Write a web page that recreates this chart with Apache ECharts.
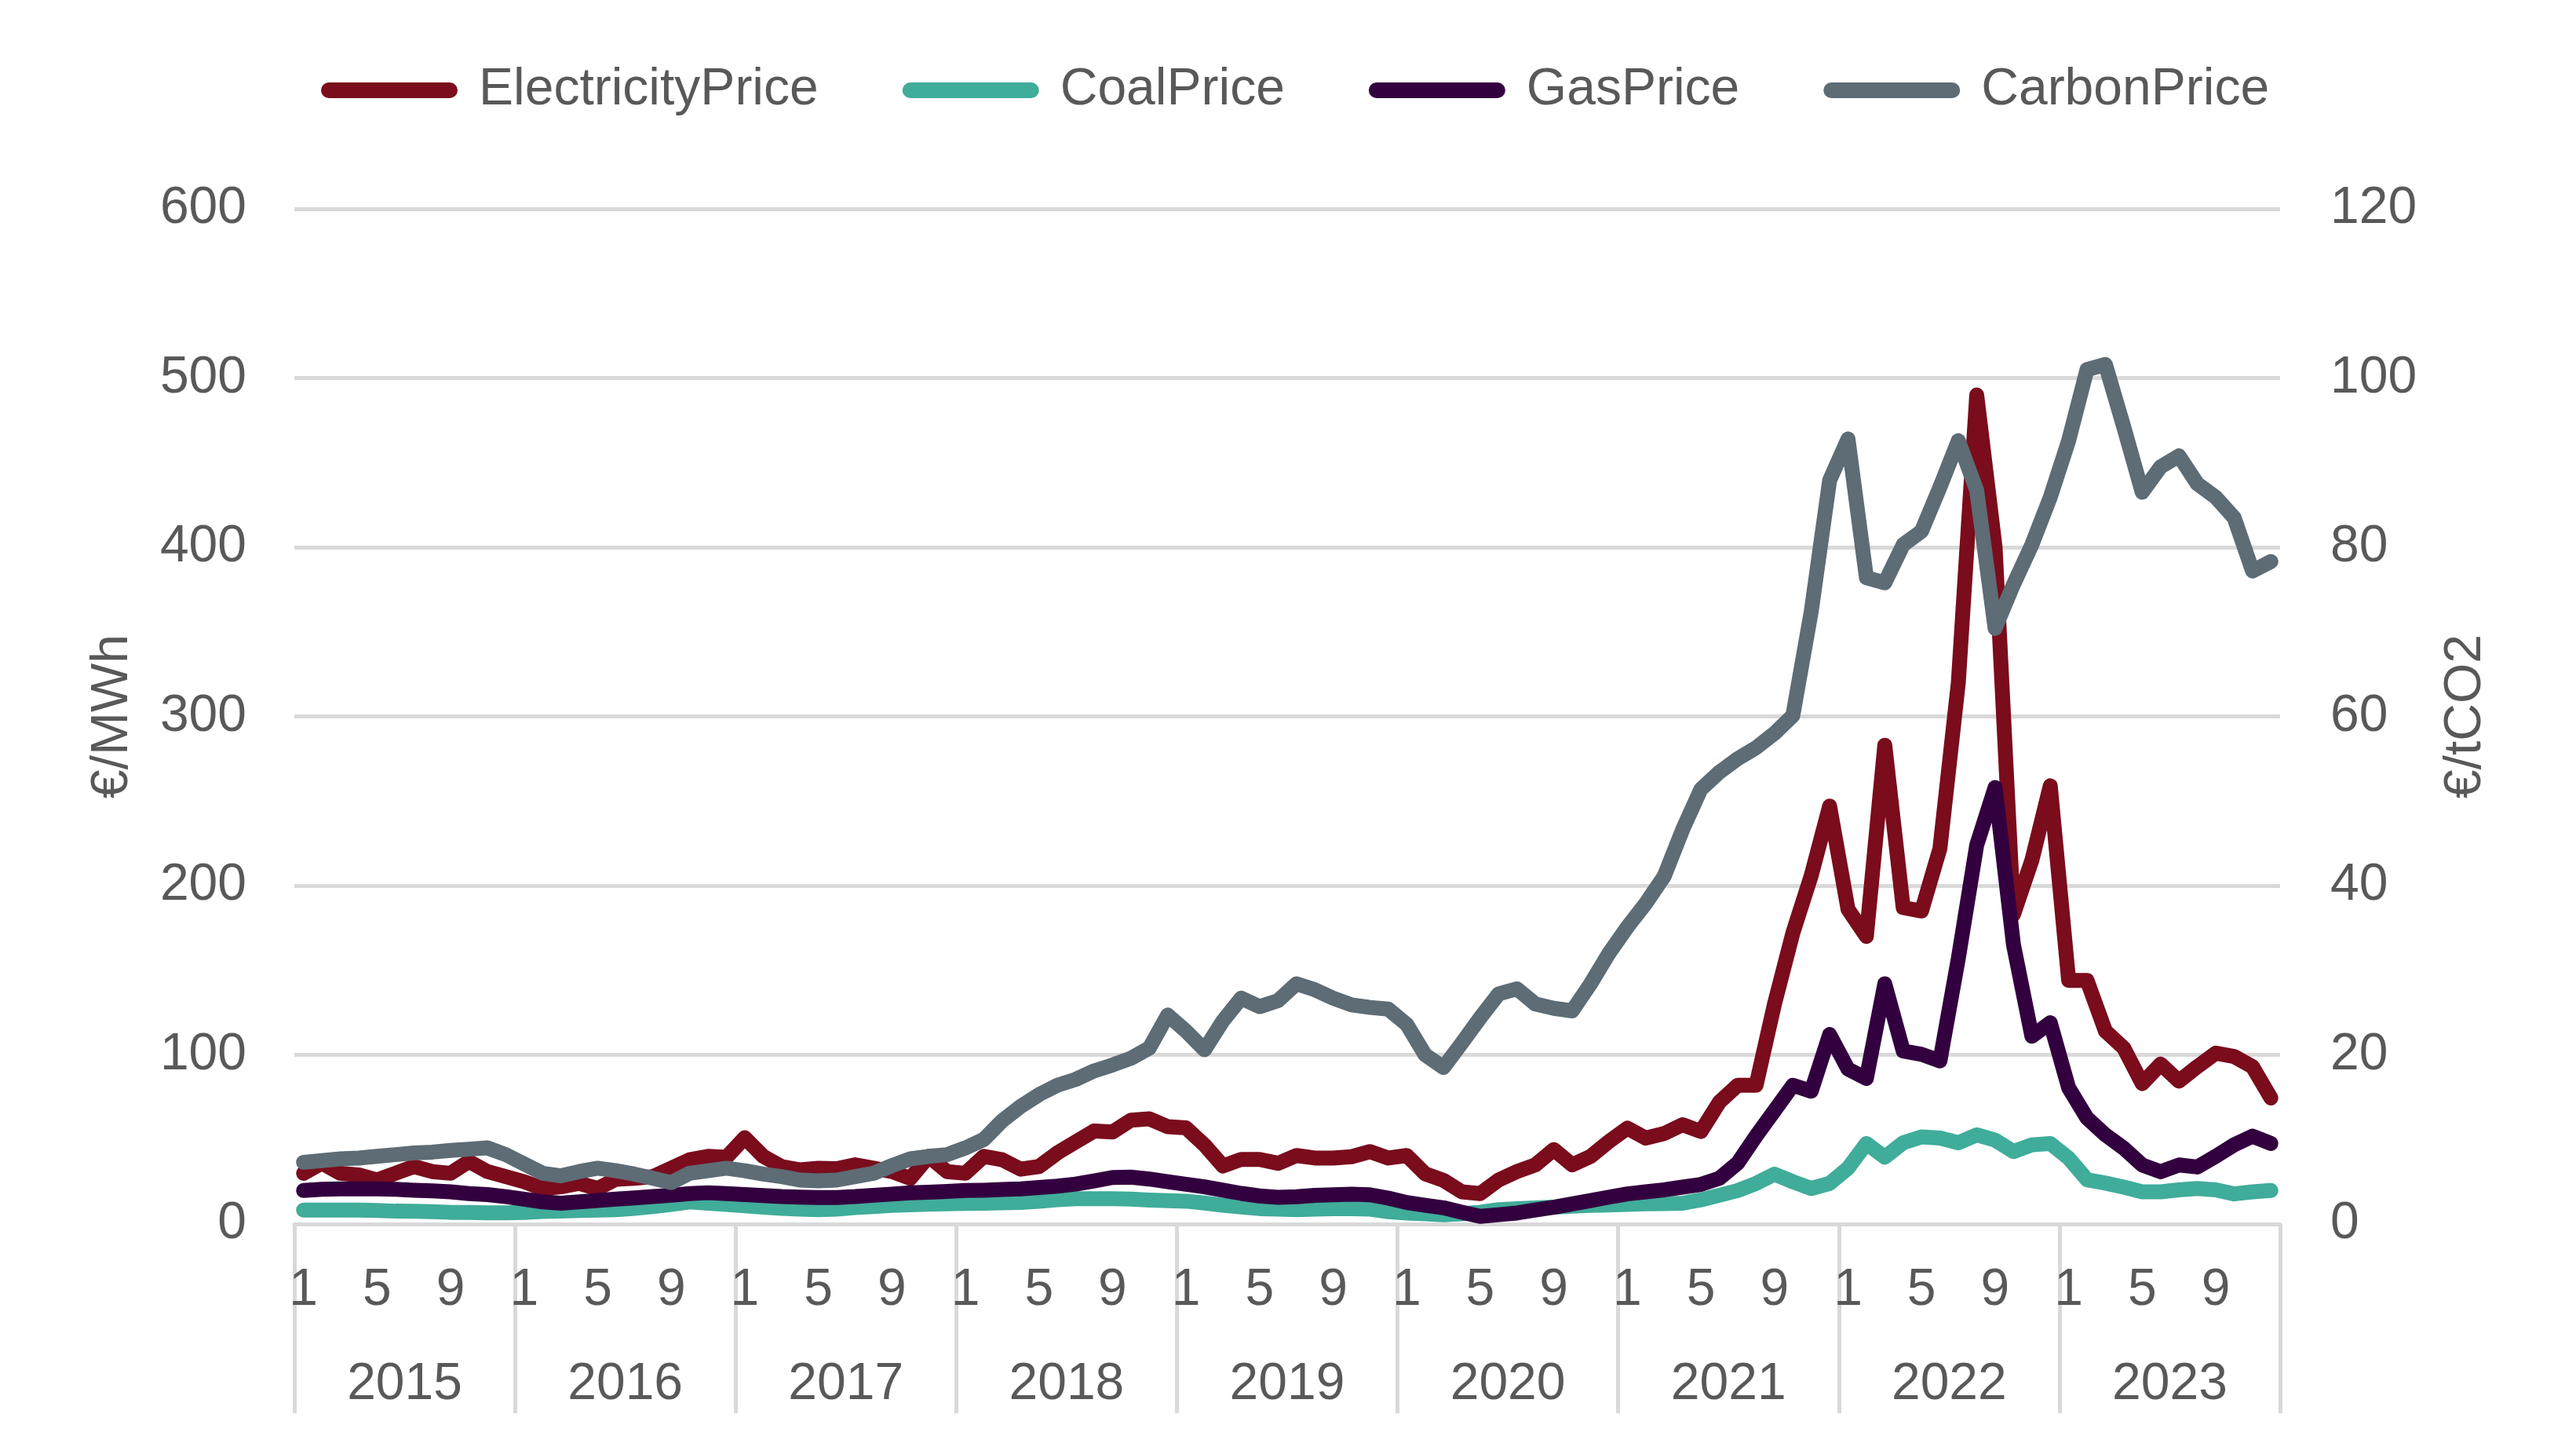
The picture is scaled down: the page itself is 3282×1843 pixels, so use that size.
<!DOCTYPE html>
<html lang="en">

<head>
    <meta charset="UTF-8">
    <title>Electricity, coal, gas and carbon prices</title>
    <script src="https://cdn.jsdelivr.net/npm/echarts/dist/echarts.min.js"></script>
    <style>
        html, body { margin: 0; padding: 0; background: #fff; }
        #chart { width: 3282px; height: 1843px; }
    </style>
</head>

<body>
    <div id="chart"></div>
    <script type="text/javascript">
        // 年份和月份（两层横轴）
        var years = ['2015', '2016', '2017', '2018', '2019', '2020', '2021', '2022', '2023'];
        var monthNames = ['1', '2', '3', '4', '5', '6', '7', '8', '9', '10', '11', '12'];

        // €/MWh, 2015-01 .. 2023-12
        var electricityPrice = [
            30, 36, 30, 29, 26, 30, 34, 31, 30, 37, 31, 28,
            25, 21, 22, 24, 21, 26.5, 27, 28, 33, 38, 40, 39.4,
            51, 40, 34, 32, 33, 32.7, 35, 33, 31, 27, 40, 31,
            30, 40, 38, 32.4, 34, 42, 48.6, 55, 54.4, 61.4, 62.2, 57.5,
            56.8, 46.7, 34.3, 38.2, 38.2, 35.9, 40.5, 39, 39, 39.8, 42.8, 39,
            40.5, 29.7, 25.8, 19, 18, 26, 31, 35, 44, 35, 40, 48.8,
            56.7, 50.8, 53.5, 58.7, 54.7, 72, 82, 82, 130, 172, 206, 247,
            186, 170, 283, 187, 185, 222, 320, 490, 400, 183, 215, 259,
            144, 144, 114, 104, 83, 94.5, 84.5, 93, 101, 99, 93, 74.5
        ];
        var coalPrice = [
            8.2, 8.2, 8.2, 8.2, 8.0, 7.6, 7.5, 7.3, 6.9, 6.9, 6.6, 6.6,
            6.9, 7.4, 7.7, 8.0, 8.2, 8.5, 9.3, 10.3, 11.6, 13.1, 12.3, 11.6,
            10.8, 10, 9.3, 8.8, 8.5, 8.8, 9.7, 10.3, 11, 11.4, 11.7, 12,
            12.2, 12.3, 12.5, 12.8, 13.4, 14.4, 15, 15, 15, 14.7, 14.2, 13.8,
            13.5, 12.4, 11.1, 10.1, 9.1, 8.8, 8.5, 8.8, 9.1, 9.1, 8.8, 7.3,
            6.5, 6, 5.5, 6, 7, 8.5, 9, 9.5, 10, 10.5, 11, 11.3,
            11.6, 11.9, 12.1, 12.3, 14.3, 17, 19.8, 24, 29.5, 25, 21, 24,
            33, 47.6, 39.5, 48, 51.5, 50.8, 48, 52.7, 49.6, 42.8, 46.8, 47.6,
            38.9, 26.2, 24.2, 21.8, 19, 19, 20.2, 21, 20.2, 17.8, 19, 19.8
        ];
        var gasPrice = [
            19.8, 20.5, 20.8, 20.8, 20.8, 20.5, 20, 19.6, 19, 18, 17.4, 16.2,
            14.7, 13.1, 12.3, 13.1, 13.9, 14.7, 15.4, 16.2, 17, 18, 18.5, 18,
            17.4, 16.8, 16.2, 15.9, 15.7, 15.7, 16.2, 17, 17.7, 18.4, 18.8, 19.3,
            19.8, 20, 20.4, 20.8, 21.6, 22.4, 23.6, 25.5, 27.5, 27.7, 26.6, 25,
            23.5, 22, 20, 18.1, 16.6, 15.8, 16.1, 16.9, 17.3, 17.6, 17.3, 15.3,
            12.7, 11.1, 9.6, 7, 4.5, 5.5, 6.5, 8.3, 9.9, 11.9, 13.9, 15.9,
            17.8, 19, 20.2, 21.8, 23.4, 27, 36, 52, 67, 82, 78.5, 112,
            91.6, 86, 142, 102.3, 100.3, 96.4, 157, 224, 258, 165, 111, 119,
            80.5, 62.6, 52.7, 44.8, 34.9, 30.9, 34.9, 33.7, 40, 46.8, 51.9, 47.6
        ];
        // €/tCO2 (right axis)
        var carbonPrice = [
            7.3, 7.5, 7.7, 7.8, 8.0, 8.2, 8.4, 8.5, 8.7, 8.85, 9.0, 8.2,
            7.1, 6.0, 5.7, 6.2, 6.6, 6.3, 5.9, 5.4, 4.9, 6.0, 6.3, 6.6,
            6.3, 5.9, 5.6, 5.2, 5.1, 5.2, 5.6, 6.0, 6.9, 7.7, 8.0, 8.2,
            9.0, 10.0, 12.2, 13.9, 15.3, 16.4, 17.1, 18.1, 18.8, 19.6, 20.8, 24.7,
            22.8, 20.6, 24.0, 26.7, 25.7, 26.4, 28.4, 27.7, 26.7, 25.9, 25.6, 25.4,
            23.6, 20.0, 18.5, 21.4, 24.4, 27.2, 27.8, 26.0, 25.5, 25.2, 28.4, 32.0,
            35.1, 37.9, 41.1, 46.6, 51.4, 53.4, 55.0, 56.3, 58.0, 60.1, 72.4, 87.9,
            92.8, 76.4, 75.8, 80.3, 81.9, 87.1, 92.6, 86.7, 70.4, 75.6, 80.3, 85.9,
            92.6, 101, 101.6, 94.2, 86.5, 89.5, 90.8, 87.5, 85.9, 83.5, 77.2, 78.3
        ];

        var seriesNames = ['ElectricityPrice', 'CoalPrice', 'GasPrice', 'CarbonPrice'];
        var seriesColors = ['#7a0c1c', '#40ac9a', '#33003f', '#5d6c75'];

        // 月份类目：每年 1..12
        var months = [];
        years.forEach(function (y) {
            monthNames.forEach(function (m) { months.push(m); });
        });

        var textColor = '#595959';
        var gridColor = '#d9d9d9';
        var font = 'Liberation Sans';

        function lineSeries(i, data, yIndex) {
            return {
                name: seriesNames[i],
                type: 'line',
                xAxisIndex: 0,
                yAxisIndex: yIndex,
                data: data,
                showSymbol: false,
                symbol: 'none',
                smooth: false,
                color: seriesColors[i],
                lineStyle: { width: 19, color: seriesColors[i], cap: 'round', join: 'round' },
                emphasis: { disabled: true },
                animation: false
            };
        }

        var myChart = echarts.init(document.getElementById('chart'));
        var option = {
            backgroundColor: '#ffffff',
            textStyle: { fontFamily: font },
            legend: {
                left: 404,
                top: 77,
                itemWidth: 174,
                itemHeight: 20,
                itemGap: 107,
                icon: 'path://M10,0 L164,0 A10,10 0 0 1 164,20 L10,20 A10,10 0 0 1 10,0 Z',
                textStyle: { fontSize: 66, color: textColor, fontFamily: font, padding: [0, 0, 0, 22] },
                data: seriesNames
            },
            grid: {
                left: 375,
                right: 377,
                top: 266,
                bottom: 284,
                containLabel: false
            },
            xAxis: [
                {
                    type: 'category',
                    data: months,
                    boundaryGap: true,
                    position: 'bottom',
                    axisLine: { show: true, lineStyle: { color: gridColor, width: 5 } },
                    axisTick: { show: false },
                    axisLabel: {
                        interval: 3,
                        margin: 52,
                        fontSize: 66,
                        color: textColor,
                        fontFamily: font
                    },
                    splitLine: { show: false }
                },
                {
                    type: 'category',
                    data: years,
                    boundaryGap: true,
                    position: 'bottom',
                    offset: 0,
                    axisLine: { show: false },
                    axisTick: {
                        show: true,
                        interval: 0,
                        length: 241,
                        lineStyle: { color: gridColor, width: 5 }
                    },
                    axisLabel: {
                        interval: 0,
                        margin: 172,
                        fontSize: 66,
                        color: textColor,
                        fontFamily: font
                    },
                    splitLine: { show: false }
                }
            ],
            yAxis: [
                {
                    type: 'value',
                    min: 0,
                    max: 600,
                    interval: 100,
                    name: '€/MWh',
                    nameLocation: 'middle',
                    nameRotate: 90,
                    nameGap: 198,
                    nameTextStyle: { fontSize: 66, color: textColor, fontFamily: font },
                    axisLine: { show: false },
                    axisTick: { show: false },
                    axisLabel: { margin: 61, fontSize: 66, color: textColor, fontFamily: font },
                    splitLine: { show: true, lineStyle: { color: gridColor, width: 5 } }
                },
                {
                    type: 'value',
                    min: 0,
                    max: 120,
                    interval: 20,
                    position: 'right',
                    name: '€/tCO2',
                    nameLocation: 'middle',
                    nameRotate: 90,
                    nameGap: 204,
                    nameTextStyle: { fontSize: 66, color: textColor, fontFamily: font },
                    axisLine: { show: false },
                    axisTick: { show: false },
                    axisLabel: { margin: 64, fontSize: 66, color: textColor, fontFamily: font },
                    splitLine: { show: false }
                }
            ],
            series: [
                lineSeries(0, electricityPrice, 0),
                lineSeries(1, coalPrice, 0),
                lineSeries(2, gasPrice, 0),
                lineSeries(3, carbonPrice, 1)
            ]
        };
        myChart.setOption(option);
    </script>
</body>

</html>
